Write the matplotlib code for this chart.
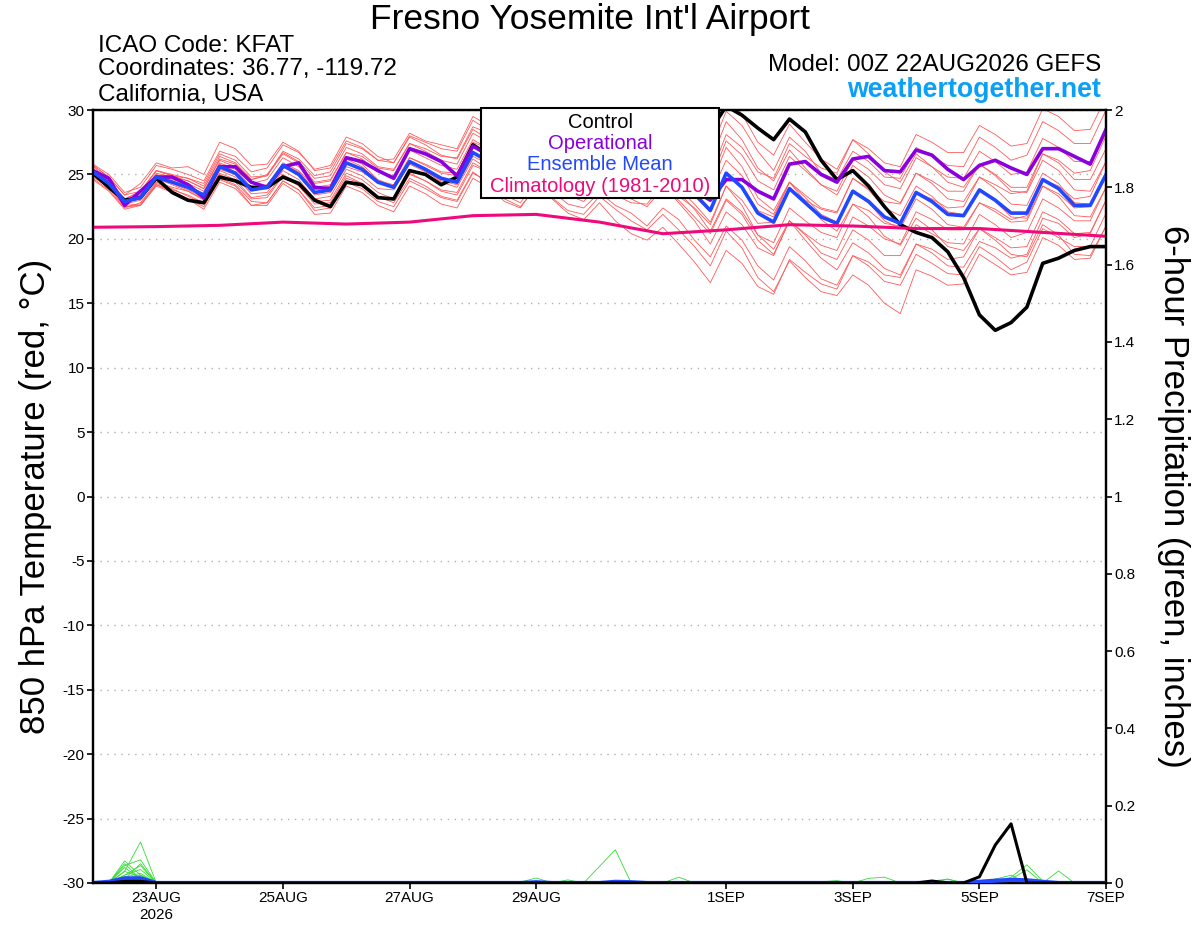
import numpy as np
import matplotlib
matplotlib.use("Agg")
import matplotlib.pyplot as plt
from matplotlib.patches import Rectangle

plt.rcParams['font.family'] = ['Liberation Sans', 'DejaVu Sans']
plt.rcParams['axes.unicode_minus'] = False

# forecast hours, 6-hourly from 00Z 22AUG2026 to 00Z 7SEP2026
hours = np.arange(0, 385, 6)

control = [25.1, 24.0, 23.0, 23.2, 24.7, 23.6, 23.0, 22.8,
           24.8, 24.5, 24.0, 24.0, 24.8, 24.3, 23.0, 22.5,
           24.4, 24.2, 23.2, 23.1, 25.3, 25.0, 24.2, 24.8,
           27.3, 26.5, 26.0, 25.5, 27.5, 27.0, 26.5, 26.0,
           27.5, 27.0, 26.5, 26.3, 27.5, 27.2, 27.8, 28.4,
           30.3, 29.6, 28.6, 27.7, 29.3, 28.3, 26.1, 24.6,
           25.3, 24.1, 22.5, 21.1, 20.5, 20.1, 19.0, 17.0,
           14.1, 12.9, 13.5, 14.7, 18.1, 18.5, 19.1, 19.4,
           19.4]

operational = [25.3, 24.7, 22.6, 23.7, 24.8, 24.8, 24.2, 23.2,
               25.6, 25.6, 24.4, 24.0, 25.6, 25.9, 24.0, 23.9,
               26.3, 26.0, 25.3, 24.7, 27.0, 26.6, 26.0, 24.9,
               27.2, 26.5, 25.8, 25.0, 26.8, 26.0, 25.0, 24.6,
               26.0, 25.3, 24.5, 24.3, 25.5, 24.8, 23.7, 23.0,
               24.6, 24.6, 23.7, 23.1, 25.8, 26.0, 25.0, 24.4,
               26.2, 26.4, 25.3, 25.2, 26.9, 26.5, 25.4, 24.6,
               25.7, 26.1, 25.5, 25.0, 27.0, 27.0, 26.4, 25.8,
               28.5]

ens_mean = [25.2, 24.3, 22.9, 23.2, 24.8, 24.4, 24.0, 23.4,
            25.6, 25.1, 23.8, 24.0, 25.7, 25.0, 23.6, 23.8,
            25.9, 25.4, 24.4, 24.0, 26.0, 25.4, 24.7, 24.4,
            26.7, 26.0, 25.0, 24.6, 26.3, 25.5, 24.6, 24.3,
            25.8, 24.8, 24.2, 24.0, 25.4, 24.5, 23.5, 22.2,
            25.1, 24.0, 22.0, 21.3, 23.9, 22.8, 21.7, 21.2,
            23.7, 22.9, 21.7, 21.2, 23.6, 22.9, 21.9, 21.8,
            23.8, 23.0, 22.0, 22.0, 24.6, 23.9, 22.6, 22.6,
            25.0]

clim_hours = np.arange(0, 385, 24)
climatology = [20.9, 20.95, 21.05, 21.3, 21.15, 21.3, 21.8, 21.9, 21.3,
               20.4, 20.7, 21.1, 21.0, 20.8, 20.8, 20.5, 20.2]

m1 = [25.7, 24.8, 23.4, 24.3, 25.9, 25.5, 25.6, 25.0,
      27.5, 27.0, 25.7, 25.8, 27.5, 26.8, 25.3, 25.5,
      27.6, 27.1, 26.1, 26.2, 28.2, 27.6, 27.3, 27.0,
      29.5, 28.8, 27.8, 27.5, 29.2, 28.4, 27.6, 27.3,
      29.0, 28.0, 27.4, 28.0, 29.4, 28.5, 28.1, 26.8,
      29.9, 28.8, 26.8, 25.3, 27.9, 26.8, 25.1, 24.6,
      26.8, 26.0, 24.8, 24.7, 27.1, 26.4, 25.7, 25.6,
      27.9, 27.1, 26.1, 26.5, 29.1, 28.4, 27.4, 27.4,
      30.0]
m2 = [24.9, 24.0, 22.6, 22.7, 24.3, 23.9, 23.3, 22.7,
      24.7, 24.2, 22.9, 22.8, 24.5, 23.8, 22.2, 22.4,
      24.4, 23.9, 22.9, 22.5, 24.5, 23.9, 23.2, 22.9,
      25.1, 24.4, 23.4, 22.8, 24.5, 23.7, 22.7, 22.4,
      23.6, 22.6, 22.0, 21.0, 22.4, 21.5, 19.9, 18.6,
      21.0, 19.9, 17.9, 16.8, 19.4, 18.3, 16.9, 16.4,
      18.7, 17.9, 16.7, 16.4, 18.8, 18.1, 17.3, 17.2,
      19.4, 18.6, 17.6, 18.2, 20.8, 20.1, 19.4, 19.4,
      22.0]
m3 = [25.7, 24.8, 23.4, 23.7, 25.3, 24.9, 24.5, 23.9,
      26.1, 25.6, 24.3, 24.6, 26.3, 25.6, 24.3, 24.5,
      26.7, 26.2, 25.2, 24.9, 26.9, 26.3, 25.7, 25.4,
      27.7, 27.0, 26.0, 25.8, 27.5, 26.7, 26.0, 25.7,
      27.4, 26.4, 25.8, 26.0, 27.4, 26.5, 25.8, 24.5,
      27.6, 26.5, 24.5, 23.8, 26.4, 25.3, 24.2, 23.7,
      26.2, 25.4, 24.2, 23.9, 26.3, 25.6, 24.8, 24.7,
      26.8, 26.0, 25.0, 25.2, 27.8, 27.1, 26.0, 26.0,
      28.5]
m4 = [24.7, 23.8, 22.4, 22.8, 24.4, 24.0, 23.7, 23.1,
      25.3, 24.8, 23.5, 23.6, 25.3, 24.6, 23.1, 23.3,
      25.4, 24.9, 23.9, 23.8, 25.8, 25.2, 24.6, 24.3,
      26.7, 26.0, 25.0, 24.1, 25.8, 25.0, 23.8, 23.5,
      24.7, 23.7, 23.1, 22.5, 23.9, 23.0, 21.7, 20.4,
      23.0, 21.9, 19.9, 18.8, 21.4, 20.3, 18.9, 18.4,
      20.7, 19.9, 18.7, 18.7, 21.1, 20.4, 19.7, 19.6,
      21.9, 21.1, 20.1, 20.5, 23.1, 22.4, 21.4, 21.4,
      24.0]
m5 = [25.4, 24.5, 23.1, 23.7, 25.3, 24.9, 24.7, 24.1,
      26.4, 25.9, 24.6, 25.0, 26.7, 26.0, 24.7, 24.9,
      27.1, 26.6, 25.6, 25.4, 27.4, 26.8, 26.1, 25.8,
      28.2, 27.5, 26.3, 25.4, 27.1, 26.1, 24.9, 24.5,
      25.8, 24.8, 24.1, 23.5, 24.9, 23.9, 22.7, 21.3,
      24.1, 23.0, 21.2, 21.3, 23.9, 23.0, 22.3, 22.0,
      24.7, 23.9, 22.9, 22.7, 25.1, 24.5, 23.7, 23.7,
      25.8, 25.0, 24.0, 24.0, 26.6, 25.9, 24.6, 24.6,
      27.0]
m6 = [24.9, 24.0, 22.5, 22.6, 24.2, 23.7, 23.1, 22.5,
      24.6, 24.1, 22.6, 22.6, 24.3, 23.5, 21.9, 22.0,
      24.1, 23.6, 22.6, 22.1, 24.1, 23.5, 22.7, 22.4,
      24.7, 24.0, 22.9, 22.4, 24.1, 23.2, 22.2, 21.9,
      23.3, 22.3, 21.4, 20.7, 21.9, 20.7, 19.4, 17.9,
      20.6, 19.3, 17.0, 15.9, 18.3, 17.0, 15.9, 15.6,
      17.2, 16.4, 15.0, 14.2, 17.6, 17.1, 16.4, 16.5,
      18.8, 18.0, 17.2, 17.4, 20.1, 19.5, 18.4, 18.5,
      21.0]
m7 = [25.2, 24.3, 23.0, 23.3, 25.0, 24.6, 24.3, 23.7,
      25.9, 25.4, 24.0, 24.2, 25.8, 25.1, 23.6, 23.8,
      25.9, 25.4, 24.5, 24.2, 26.3, 25.7, 25.1, 24.9,
      27.2, 26.5, 25.6, 25.3, 27.0, 26.3, 25.5, 25.2,
      26.8, 26.0, 25.7, 25.7, 27.4, 26.7, 26.0, 24.9,
      28.1, 27.1, 25.2, 24.7, 27.4, 26.4, 25.5, 25.1,
      27.7, 27.0, 25.9, 25.6, 28.1, 27.5, 26.7, 26.7,
      28.8, 28.1, 27.2, 27.4, 30.1, 29.5, 28.4, 28.5,
      31.0]
m8 = [25.6, 24.6, 23.1, 23.2, 24.7, 24.2, 23.7, 23.0,
      25.1, 24.6, 23.2, 23.4, 25.0, 24.3, 22.9, 23.0,
      25.1, 24.6, 23.6, 23.1, 25.1, 24.5, 23.7, 23.4,
      25.7, 25.2, 24.4, 24.2, 26.1, 25.5, 24.8, 24.6,
      26.3, 24.9, 23.8, 23.2, 24.2, 22.8, 21.4, 19.6,
      22.1, 21.1, 19.3, 18.7, 21.4, 20.4, 19.5, 19.1,
      21.7, 21.0, 20.0, 19.6, 22.1, 21.5, 20.7, 20.7,
      22.8, 22.1, 21.3, 21.4, 24.1, 23.5, 22.4, 22.5,
      25.0]
m9 = [25.1, 24.3, 23.0, 23.4, 25.1, 24.8, 24.5, 23.9,
      26.2, 25.8, 24.6, 24.9, 26.8, 26.2, 24.9, 25.2,
      27.4, 27.0, 26.1, 25.9, 28.0, 27.5, 27.0, 26.8,
      29.2, 28.4, 27.4, 26.9, 28.5, 27.7, 26.7, 26.4,
      27.8, 27.0, 26.7, 26.7, 28.4, 27.7, 27.0, 25.9,
      29.1, 27.7, 25.5, 24.5, 26.9, 25.5, 24.2, 23.4,
      25.7, 24.8, 23.4, 22.8, 25.1, 24.3, 23.1, 22.9,
      24.8, 23.9, 22.7, 22.6, 25.1, 24.3, 22.8, 22.7,
      25.0]
m10 = [25.3, 24.4, 22.9, 23.2, 24.7, 24.3, 23.8, 23.2,
       25.4, 25.0, 23.8, 24.1, 25.9, 25.3, 24.0, 24.2,
       26.4, 25.8, 24.6, 24.1, 26.0, 25.3, 24.4, 24.0,
       26.2, 25.4, 24.3, 23.7, 25.3, 24.4, 23.4, 22.9,
       24.3, 23.4, 22.8, 22.7, 24.2, 23.3, 22.4, 21.1,
       24.1, 22.6, 20.3, 19.2, 21.4, 19.9, 18.5, 17.6,
       19.7, 18.9, 17.7, 17.2, 19.6, 18.9, 17.9, 17.8,
       19.8, 19.3, 18.5, 18.8, 21.6, 21.2, 20.1, 20.4,
       23.0]
m11 = [24.8, 24.0, 22.7, 23.0, 24.7, 24.4, 24.1, 23.5,
       25.8, 25.2, 23.9, 24.0, 25.7, 24.9, 23.4, 23.6,
       25.6, 25.2, 24.4, 24.1, 26.3, 25.8, 25.2, 25.1,
       27.5, 27.0, 26.2, 26.0, 27.9, 27.4, 26.7, 26.6,
       28.3, 27.1, 26.3, 25.9, 27.2, 26.1, 24.9, 23.4,
       26.1, 24.9, 22.7, 21.9, 24.4, 23.2, 21.9, 21.3,
       23.7, 22.8, 21.4, 20.8, 23.1, 22.3, 21.1, 20.9,
       22.8, 22.3, 21.5, 21.8, 24.6, 24.1, 23.1, 23.3,
       26.0]
m12 = [25.8, 25.0, 23.6, 24.0, 25.7, 25.4, 25.0, 24.5,
       26.8, 26.4, 25.2, 25.5, 27.3, 26.7, 25.4, 25.7,
       27.9, 27.4, 26.4, 25.9, 27.9, 27.3, 26.5, 26.2,
       28.5, 27.7, 26.6, 26.1, 27.7, 26.8, 25.8, 25.4,
       26.8, 25.4, 24.4, 23.9, 24.9, 23.6, 22.3, 20.6,
       23.1, 22.1, 20.3, 19.7, 22.4, 21.4, 20.5, 20.1,
       22.7, 22.2, 21.2, 21.0, 23.6, 23.1, 22.4, 22.5,
       24.8, 24.2, 23.5, 23.7, 26.6, 26.1, 25.1, 25.3,
       28.0]
m13 = [24.6, 23.7, 22.3, 22.6, 24.2, 23.8, 23.4, 22.8,
       25.0, 24.4, 23.1, 23.2, 24.9, 24.1, 22.7, 22.8,
       24.9, 24.3, 23.3, 22.8, 24.7, 24.1, 23.3, 23.0,
       25.2, 24.3, 23.1, 22.5, 24.0, 23.1, 22.0, 21.5,
       22.8, 21.4, 20.4, 19.9, 20.9, 19.6, 18.2, 16.6,
       19.1, 18.1, 16.3, 15.7, 18.4, 17.4, 16.5, 16.1,
       18.7, 18.2, 17.2, 17.0, 19.6, 19.2, 18.4, 18.6,
       20.8, 20.1, 19.3, 19.4, 22.1, 21.5, 20.4, 20.5,
       23.0]
m14 = [25.4, 24.5, 23.1, 23.3, 24.9, 24.5, 24.0, 23.4,
       25.6, 25.1, 23.9, 24.1, 25.8, 25.2, 23.8, 24.1,
       26.2, 25.6, 24.5, 24.0, 26.0, 25.3, 24.5, 24.2,
       26.4, 25.8, 24.9, 24.6, 26.4, 25.7, 24.9, 24.7,
       26.3, 25.5, 25.1, 25.1, 26.6, 25.9, 25.1, 24.0,
       27.1, 25.6, 23.2, 22.2, 24.4, 22.9, 21.5, 20.6,
       22.7, 21.7, 20.2, 19.5, 21.6, 20.7, 19.4, 19.1,
       20.8, 19.9, 18.8, 18.6, 21.1, 20.3, 18.8, 18.7,
       21.0]
m15 = [25.2, 24.4, 23.1, 23.6, 25.3, 25.0, 24.7, 24.3,
       26.6, 26.1, 24.8, 24.9, 26.6, 25.9, 24.4, 24.6,
       26.7, 26.4, 25.5, 25.3, 27.4, 27.0, 26.4, 26.3,
       28.7, 28.2, 27.4, 27.2, 29.1, 28.4, 27.7, 27.6,
       29.3, 28.6, 28.3, 28.4, 30.2, 29.6, 28.9, 27.9,
       31.1, 29.7, 27.5, 26.5, 28.9, 27.5, 26.2, 25.4,
       27.7, 26.6, 25.2, 24.4, 26.6, 25.6, 24.4, 24.0,
       25.8, 24.9, 23.7, 23.6, 26.1, 25.3, 23.8, 23.7,
       26.0]
m16 = [25.0, 24.0, 22.5, 22.6, 24.1, 23.6, 23.1, 22.3,
       24.4, 23.9, 22.6, 22.8, 24.5, 23.8, 22.4, 22.6,
       24.7, 24.3, 23.3, 23.0, 25.0, 24.5, 23.8, 23.6,
       25.9, 25.2, 24.1, 23.7, 25.4, 24.6, 23.6, 23.3,
       24.8, 23.9, 23.5, 23.4, 24.9, 24.1, 23.3, 22.1,
       25.1, 24.1, 22.2, 21.7, 24.4, 23.4, 22.4, 22.1,
       24.7, 23.8, 22.4, 21.8, 24.1, 23.3, 22.1, 21.9,
       23.8, 22.9, 21.7, 21.6, 24.1, 23.3, 21.8, 21.7,
       24.0]
members = [m1, m2, m3, m4, m5, m6, m7, m8, m9, m10, m11, m12, m13, m14, m15, m16]

# 6-hour precipitation (inches): only the non-zero steps are listed
precip_members = [
    {2: 0.057, 3: 0.02},
    {2: 0.03, 3: 0.106, 53: 0.005, 54: 0.01},
    {2: 0.01, 3: 0.05, 27: 0.002, 28: 0.013, 30: 0.008},
    {2: 0.005, 3: 0.01},
    {2: 0.045, 3: 0.06, 58: 0.015, 59: 0.047, 60: 0.005},
    {3: 0.02},
    {2: 0.02, 3: 0.035, 49: 0.012, 50: 0.015},
    {2: 0.05, 3: 0.01, 32: 0.043, 33: 0.086},
    {2: 0.01, 57: 0.01, 58: 0.02},
    {2: 0.03, 3: 0.015, 35: 0.004},
    {3: 0.005, 37: 0.015},
    {2: 0.02, 3: 0.045, 58: 0.01, 59: 0.034, 61: 0.031},
    {2: 0.01, 3: 0.02, 54: 0.01},
    {46: 0.003, 47: 0.006},
    {2: 0.04, 3: 0.01, 29: 0.003},
    {2: 0.015, 3: 0.025},
]
precip_control = {2: 0.004, 3: 0.004, 53: 0.005, 56: 0.016, 57: 0.098, 58: 0.153}
precip_mean = {1: 0.003, 2: 0.012, 3: 0.012, 28: 0.002, 33: 0.003, 34: 0.002,
               56: 0.003, 57: 0.006, 58: 0.008, 59: 0.007, 60: 0.003}

tick_hours = [24, 72, 120, 168, 240, 288, 336, 384]
tick_labels = ["23AUG\n2026", "25AUG", "27AUG", "29AUG", "1SEP", "3SEP", "5SEP", "7SEP"]


def expand(d):
    arr = np.zeros(len(hours))
    for k, v in d.items():
        arr[k] = v
    return arr


fig = plt.figure(figsize=(12, 9.27), dpi=100)
ax = fig.add_axes([0.0775, 0.0475, 0.8442, 0.8338])
ax2 = ax.twinx()

red = "#ff5a5a"
green = "#33dd33"
purple = "#8a00dc"
blue = "#2248ff"
pink = "#ee0a7a"

for m in members:
    ax.plot(hours, m, color=red, lw=0.6, zorder=2)
ax.plot(hours, control, color="black", lw=2.6, zorder=3)
ax.plot(hours, operational, color=purple, lw=2.6, zorder=4)
ax.plot(hours, ens_mean, color=blue, lw=2.6, zorder=5)
ax.plot(clim_hours, climatology, color=pink, lw=2.2, zorder=6)

for p in precip_members:
    ax2.plot(hours, expand(p), color=green, lw=0.6, zorder=2)
ax2.plot(hours, expand(precip_mean), color=blue, lw=3, zorder=3)
ax2.plot(hours, expand(precip_control), color="black", lw=2.2, zorder=4)

ax.set_xlim(0, 384)
ax.set_ylim(-30, 30)
ax2.set_ylim(0, 2)
ax.set_yticks(np.arange(-30, 31, 5))
ax2.set_yticks(np.arange(0, 2.01, 0.2))
ax2.set_yticklabels([f"{v:g}" for v in np.round(np.arange(0, 2.01, 0.2), 1)])
ax.set_xticks(tick_hours)
ax.set_xticklabels(tick_labels)

ax.grid(axis="y", color="#b0b0b0", linestyle=(0, (1, 4)), lw=1.0)
for a in (ax, ax2):
    for s in a.spines.values():
        s.set_linewidth(1.6)
ax.tick_params(axis="both", direction="out", length=4, width=1.2, labelsize=11, pad=2)
ax2.tick_params(axis="y", direction="out", length=4, width=1.2, labelsize=11, pad=2)

ax.set_ylabel("850 hPa Temperature (red, °C)", fontsize=25)
ax.yaxis.set_label_coords(-0.040, 0.5)
ax2.set_ylabel("6-hour Precipitation (green, inches)", fontsize=25, rotation=-90, va="bottom")
ax2.yaxis.set_label_coords(1.050, 0.5)

# legend box
ax2.add_patch(Rectangle((0.383, 0.886), 0.235, 0.117, transform=ax2.transAxes,
                        facecolor="white", edgecolor="black", lw=1.5,
                        clip_on=False, zorder=10))
legend_items = [("Control", "black"), ("Operational", purple),
                ("Ensemble Mean", blue), ("Climatology (1981-2010)", pink)]
for i, (txt, col) in enumerate(legend_items):
    ax2.text(0.5005, 0.984 - i * 0.0275, txt, color=col, fontsize=14.5,
             ha="center", va="center", transform=ax2.transAxes, zorder=11)

fig.text(0.492, 0.9687, "Fresno Yosemite Int'l Airport", fontsize=25.5, ha="center", va="baseline")
fig.text(0.0817, 0.9439, "ICAO Code: KFAT", fontsize=17.5, va="baseline")
fig.text(0.0817, 0.9186, "Coordinates: 36.77, -119.72", fontsize=17.5, va="baseline")
fig.text(0.0817, 0.8913, "California, USA", fontsize=17.5, va="baseline")
fig.text(0.9175, 0.9234, "Model: 00Z 22AUG2026 GEFS", fontsize=17.4, ha="right", va="baseline")
fig.text(0.9175, 0.8957, "weathertogether.net", fontsize=19.3, ha="right", va="baseline",
         color="#0aa0f5", fontweight="bold")

fig.savefig("out.png", dpi=100)
